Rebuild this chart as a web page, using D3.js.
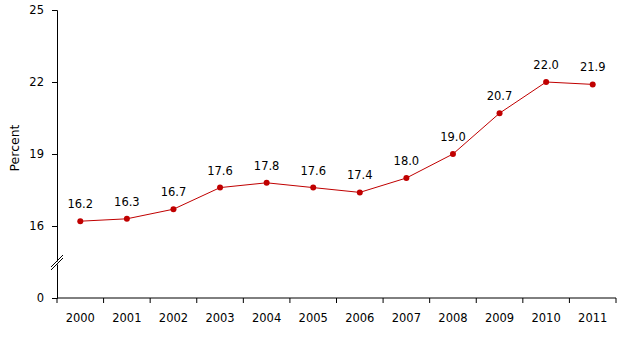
<!DOCTYPE html>
<html><head><meta charset="utf-8">
<script src="https://cdn.jsdelivr.net/npm/d3@7"></script>
<style>body{margin:0;background:#fff}svg{display:block}text{font-family:"DejaVu Sans",Verdana,sans-serif;font-size:11px;fill:#000}</style>
</head><body>
<script>
const years = ["2000","2001","2002","2003","2004","2005","2006","2007","2008","2009","2010","2011"];
const values = [16.2,16.3,16.7,17.6,17.8,17.6,17.4,18.0,19.0,20.7,22.0,21.9];
const yTicks = [13,16,19,22,25];
const yTickLabels = ["0","16","19","22","25"];
const yLabel = "Percent";

const W=628,H=340;
const svg=d3.select("body").append("svg").attr("width",W).attr("height",H);
const x=d3.scaleBand().domain(years).range([57,616]);
const y=d3.scaleLinear().domain([13,25]).range([298,10]);
const color="#c00000";

const yAxis=d3.axisLeft(y).tickValues(yTicks).tickSize(5).tickPadding(8)
  .tickFormat((d,i)=>yTickLabels[i]);
const gy=svg.append("g").attr("transform","translate(57,0)").call(yAxis);
gy.attr("font-family",null).attr("font-size",null);
gy.select(".domain").attr("stroke","#000");
gy.selectAll("text").style("font-size","11.5px");

const xAxis=d3.axisBottom(x).tickSize(0).tickPadding(16);
const gx=svg.append("g").attr("transform","translate(0,298)").call(xAxis);
gx.attr("font-family",null).attr("font-size",null);
gx.select(".domain").attr("d","M57,0H616");
gx.selectAll("text").attr("dy","0.71em").style("font-size","11.5px");
const bounds=years.map(d=>x(d)).concat([x(years[years.length-1])+x.bandwidth()]);
gx.selectAll(".sep").data(bounds).enter().append("line").attr("class","sep")
  .attr("x1",d=>d).attr("x2",d=>d).attr("y1",0).attr("y2",5).attr("stroke","#000");

const by=264;
svg.append("polygon").attr("points",`52,${by+6} 62,${by-4} 62,${by-7} 52,${by+3}`).attr("fill","#fff");
[0,-3].forEach(o=>svg.append("line").attr("x1",51).attr("y1",by+6+o).attr("x2",63).attr("y2",by-6+o)
  .attr("stroke","#000").attr("stroke-width",1));

svg.append("text").attr("transform","translate(19,148) rotate(-90)").attr("text-anchor","middle")
  .style("font-size","12.5px").text(yLabel);

const cx=d=>x(d)+x.bandwidth()/2;
const line=d3.line().x((d,i)=>cx(years[i])).y(d=>y(d));
svg.append("path").datum(values).attr("d",line).attr("fill","none").attr("stroke",color).attr("stroke-width",1);
svg.selectAll(".pt").data(values).enter().append("circle")
  .attr("cx",(d,i)=>cx(years[i])).attr("cy",d=>y(d)).attr("r",3).attr("fill",color);
svg.selectAll(".lbl").data(values).enter().append("text")
  .attr("x",(d,i)=>cx(years[i])).attr("y",d=>y(d)-13).attr("text-anchor","middle")
  .style("font-size","11.5px")
  .text(d=>d.toFixed(1));
</script>
</body></html>
